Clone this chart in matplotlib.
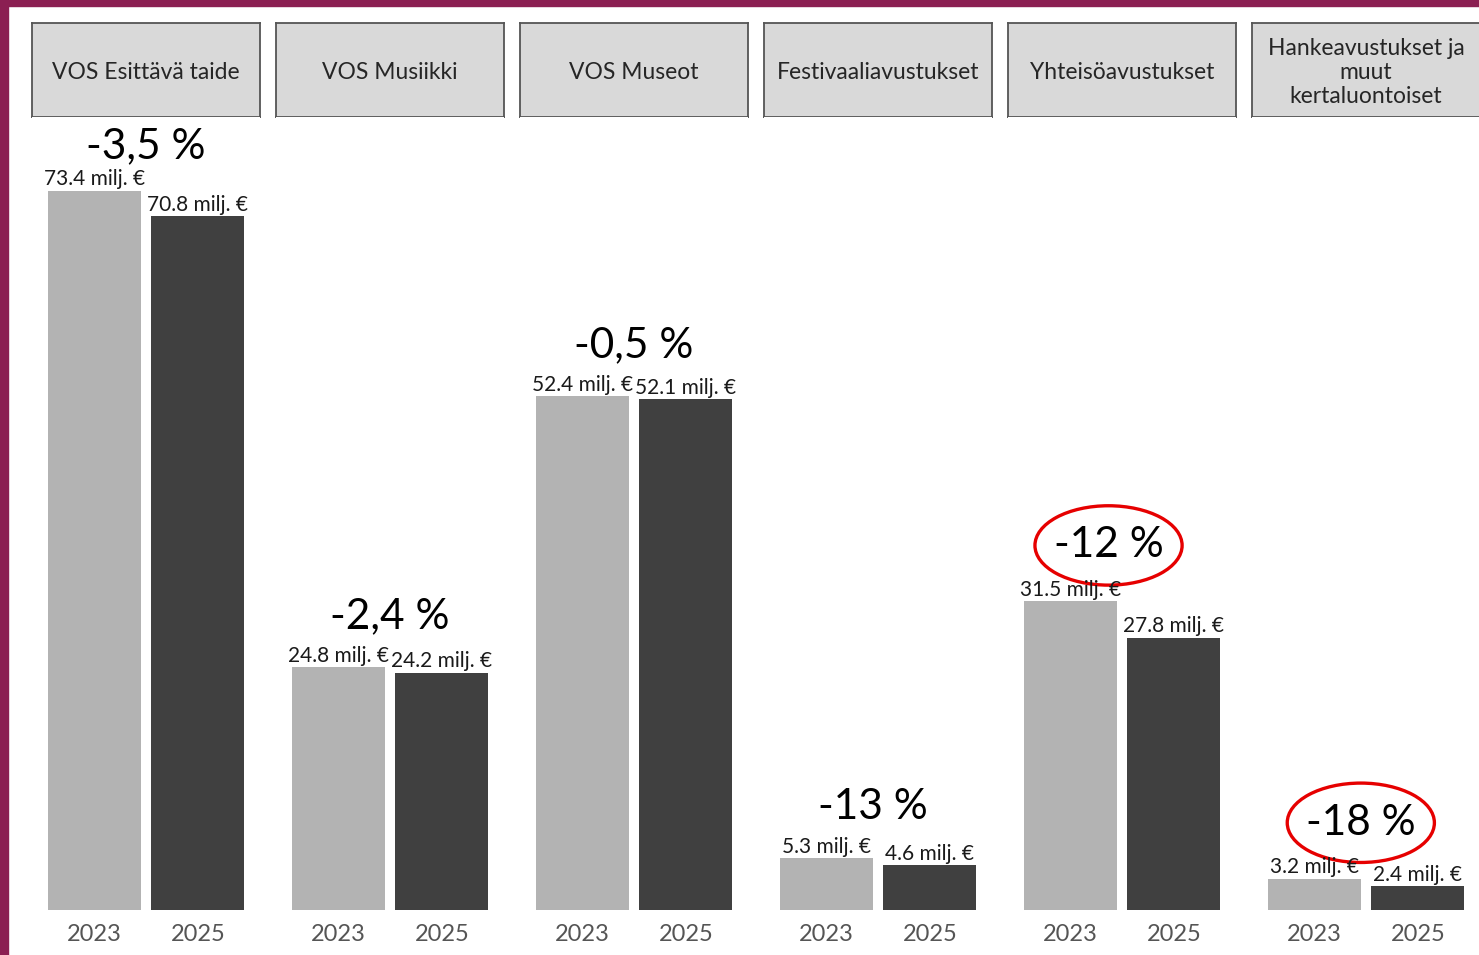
import matplotlib
matplotlib.use("Agg")
import matplotlib.pyplot as plt
from matplotlib.patches import Rectangle, Ellipse

# data
categories = ["VOS Esittävä taide", "VOS Musiikki", "VOS Museot",
              "Festivaaliavustukset", "Yhteisöavustukset",
              "Hankeavustukset ja\nmuut\nkertaluontoiset"]
years = ["2023", "2025"]
values_2023 = [73.4, 24.8, 52.4, 5.3, 31.5, 3.2]
values_2025 = [70.8, 24.2, 52.1, 4.6, 27.8, 2.4]
change_labels = ["-3,5 %", "-2,4 %", "-0,5 %", "-13 %", "-12 %", "-18 %"]
highlighted = [False, False, False, False, True, True]

plt.rcParams['font.family'] = ['Lato', 'DejaVu Sans']

W, H = 1479, 955
fig = plt.figure(figsize=(W / 100, H / 100), dpi=100)

''' purple frame on left and top '''
purple = "#8b1f52"
fig.patches.append(Rectangle((0, 0), 8 / W, 1, transform=fig.transFigure,
                             color=purple, zorder=0))
fig.patches.append(Rectangle((0, 1 - 6 / H), 1, 6 / H, transform=fig.transFigure,
                             color=purple, zorder=0))

light = "#b3b3b3"
dark = "#404040"
panel_w = 228
strip_top, strip_bot, panel_bot = 23, 117, 910
px_per_unit = 9.8
ymax = (panel_bot - strip_bot) / px_per_unit

for i, cat in enumerate(categories):
  left = 32 + i * 244
  # strip
  sax = fig.add_axes([left / W, 1 - strip_bot / H, panel_w / W,
                      (strip_bot - strip_top) / H])
  sax.set_facecolor("#d9d9d9")
  for sp in sax.spines.values():
    sp.set_color("#555555")
    sp.set_linewidth(1.3)
  sax.set_xticks([])
  sax.set_yticks([])
  sax.text(0.5, 0.47, cat, ha="center", va="center", fontsize=16.5,
           color="#262626", linespacing=1.18, transform=sax.transAxes)

  # panel
  ax = fig.add_axes([left / W, 1 - panel_bot / H, panel_w / W,
                     (panel_bot - strip_bot) / H])
  vals = [values_2023[i], values_2025[i]]
  ax.bar([1, 2], vals, width=0.9, color=[light, dark])
  ax.set_xlim(0.4, 2.6)
  ax.set_ylim(0, ymax)
  for sp in ax.spines.values():
    sp.set_visible(False)
  ax.set_yticks([])
  ax.set_xticks([1, 2])
  ax.set_xticklabels(years, fontsize=17, color="#555555")
  ax.tick_params(axis="x", length=0, pad=10)

  for x, v in zip([1, 2], vals):
    ax.annotate(f"{v:.1f} milj. €", (x, v), xytext=(0, 1),
                textcoords="offset points", ha="center", va="bottom",
                fontsize=15, color="#1a1a1a", annotation_clip=False)

  # percentage change label
  if highlighted[i]:
    y_lab = max(vals) + 5.7
    cx = 1.37 if i == 4 else 1.45
    ax.text(cx, y_lab, change_labels[i], ha="center", va="center",
            fontsize=30.5, color="black")
    ax.add_patch(Ellipse((cx, y_lab), 1.42, 8.1, fill=False,
                         edgecolor="#e60000", linewidth=2.4, clip_on=False))
  else:
    y_lab = max(vals) + (4.5 if i == 0 else 5.2)
    cx = 1.5 if i != 3 else 1.45
    ax.text(cx, y_lab, change_labels[i], ha="center", va="center",
            fontsize=30.5, color="black", clip_on=False)

fig.savefig("out.png", dpi=100)
